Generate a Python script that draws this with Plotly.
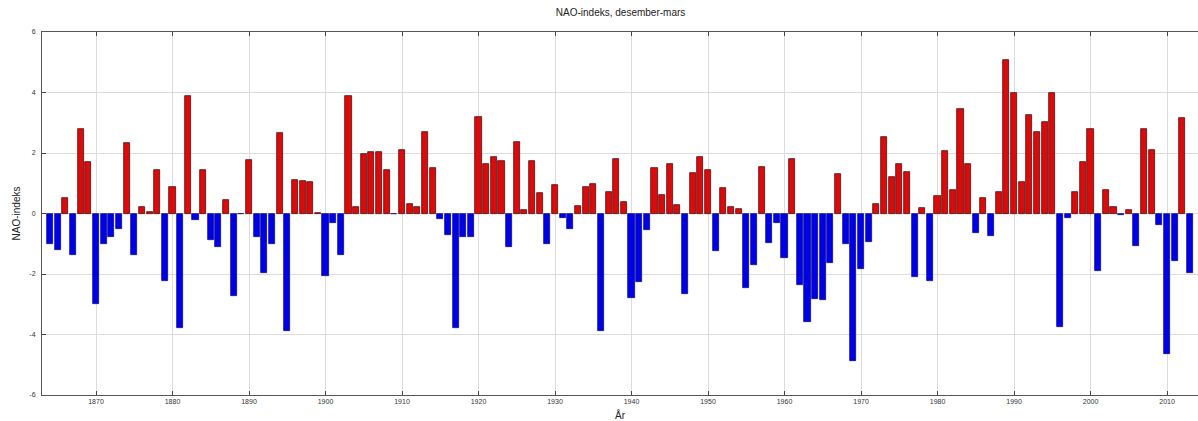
import plotly.graph_objects as go

# ---- data -------------------------------------------------------------
years = list(range(1864, 2014))
nao = [
    -1.00, -1.21, 0.52, -1.38, 2.81, 1.69,                 # 1864-1869
    -3.00, -1.02, -0.77, -0.50, 2.34, -1.36, 0.22, 0.06, 1.44, -2.22,   # 1870s
    0.89, -3.80, 3.88, -0.22, 1.43, -0.86, -1.10, 0.46, -2.73, -0.03,  # 1880s
    1.78, -0.78, -1.98, -1.00, 2.67, -3.90, 1.10, 1.08, 1.03, 0.03,    # 1890s
    -2.08, -0.30, -1.38, 3.90, 0.22, 1.96, 2.03, 2.03, 1.43, -0.03,    # 1900s
    2.10, 0.30, 0.22, 2.69, 1.49, -0.19, -0.70, -3.77, -0.79, -0.79,   # 1910s
    3.18, 1.65, 1.87, 1.74, -1.10, 2.37, 0.10, 1.73, 0.67, -1.00,      # 1920s
    0.94, -0.15, -0.50, 0.25, 0.86, 0.97, -3.87, 0.72, 1.79, 0.39,     # 1930s
    -2.80, -2.27, -0.54, 1.49, 0.61, 1.65, 0.28, -2.65, 1.34, 1.88,    # 1940s
    1.43, -1.23, 0.85, 0.20, 0.15, -2.47, -1.69, 1.55, -0.98, -0.32,   # 1950s
    -1.48, 1.81, -2.36, -3.58, -2.81, -2.86, -1.65, 1.30, -1.02, -4.88, # 1960s
    -1.84, -0.94, 0.33, 2.53, 1.21, 1.65, 1.38, -2.09, 0.17, -2.24,    # 1970s
    0.57, 2.06, 0.77, 3.45, 1.63, -0.63, 0.50, -0.74, 0.72, 5.09,      # 1980s
    3.97, 1.05, 3.27, 2.68, 3.01, 3.97, -3.75, -0.14, 0.72, 1.71,      # 1990s
    2.79, -1.90, 0.77, 0.22, -0.05, 0.10, -1.07, 2.81, 2.09, -0.39,    # 2000s
    -4.63, -1.58, 3.16, -1.98,                                          # 2010-2013
]
x_ticks = list(range(1870, 2011, 10))
y_ticks = [-6, -4, -2, 0, 2, 4, 6]
y_tick_labels = ["-6", "-4", "-2", "0", "2", "4", "6"]

title_text = "NAO-indeks, desember-mars"
y_title = "NAO-indeks"
x_title = "År"

# ---- style ------------------------------------------------------------
RED = "#dc0a0a"
BLUE = "#0000e6"
colors = [RED if v >= 0 else BLUE for v in nao]
edge = ["#3a0000" if v >= 0 else "#000080" for v in nao]

FONT = "Liberation Sans, Arial, Helvetica, sans-serif"

fig = go.Figure(
    go.Bar(
        x=years,
        y=nao,
        marker=dict(color=colors, line=dict(color=edge, width=0.7)),
        width=0.8,
        hovertemplate="%{x}: %{y:.2f}<extra></extra>",
    )
)

fig.update_layout(
    width=1198,
    height=421,
    margin=dict(l=42, r=0, t=32, b=26),
    paper_bgcolor="white",
    plot_bgcolor="white",
    showlegend=False,
    bargap=0,
    font=dict(family=FONT, size=7, color="#222"),
    title=dict(
        text=title_text,
        x=0.518,
        xanchor="center",
        y=0.971,
        yanchor="middle",
        font=dict(family=FONT, size=10, color="#222"),
    ),
)

fig.update_xaxes(
    range=[1862.94, 2014.05],
    tickmode="array",
    tickvals=x_ticks,
    ticks="inside",
    ticklen=4,
    tickcolor="#444",
    showline=True,
    linecolor="#555",
    linewidth=1,
    mirror="ticks",
    showgrid=True,
    gridcolor="#dcdcdc",
    gridwidth=1,
    zeroline=False,
    tickfont=dict(family=FONT, size=7, color="#333"),
    title=dict(text=x_title, font=dict(family=FONT, size=10, color="#222"), standoff=9),
    automargin=False,
)

fig.update_yaxes(
    range=[-6, 6],
    tickmode="array",
    tickvals=y_ticks,
    ticktext=y_tick_labels,
    ticks="inside",
    ticklen=4,
    tickcolor="#444",
    showline=True,
    linecolor="#555",
    linewidth=1,
    mirror=False,
    showgrid=True,
    gridcolor="#dcdcdc",
    gridwidth=1,
    zeroline=False,
    ticklabelstandoff=4,
    tickfont=dict(family=FONT, size=7, color="#333"),
    title=dict(text=y_title, font=dict(family=FONT, size=10, color="#222"), standoff=6),
    automargin=False,
)

fig.write_html("out.html")
